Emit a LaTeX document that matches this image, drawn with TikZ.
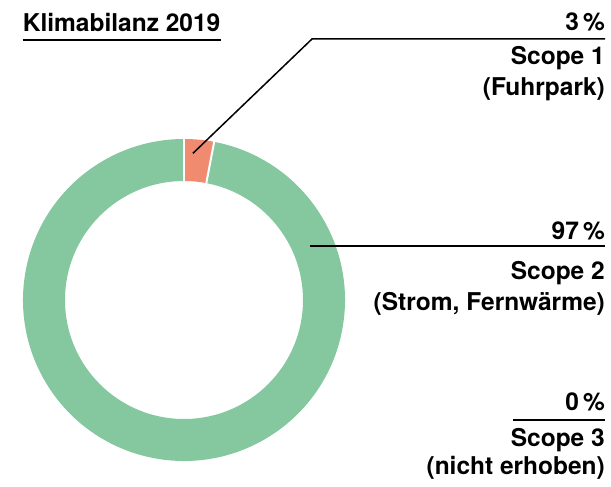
\documentclass[tikz,border=0pt]{standalone}
\usepackage{fontspec}
\setmainfont{TeX Gyre Heros}
\definecolor{ringgreen}{HTML}{85C8A0}
\definecolor{ringorange}{HTML}{F08B70}
\begin{document}
\begin{tikzpicture}[x=1pt,y=1pt,
  lbl/.style={font=\bfseries\fontsize{24.5}{28}\selectfont, inner sep=0pt, anchor=base east},
  ttl/.style={font=\bfseries\fontsize{24.5}{28}\selectfont, inner sep=0pt, anchor=base west},
  rule/.style={line width=1.5pt, black},
  sep/.style={white, line width=2pt}]
\useasboundingbox (0,0) rectangle (611,487);
% ring
\begin{scope}[shift={(184,187)}]
\fill[ringgreen] (79.2:161) arc[start angle=79.2, end angle=-270, radius=161]
  -- (90:119) arc[start angle=90, end angle=439.2, radius=119] -- cycle;
\fill[ringorange] (90:161) arc[start angle=90, end angle=79.2, radius=161]
  -- (79.2:119) arc[start angle=79.2, end angle=90, radius=119] -- cycle;
\draw[sep] (90:117) -- (90:163);
\draw[sep] (79.2:117) -- (79.2:163);
\coordinate (p1) at (86.5:147);
\end{scope}
% title
\node[ttl] (title) at (22.7,455) {Klimabilanz 2019};
\draw[rule] (22.7,447) -- (221,447);
% block 1
\node[lbl] (pct1) at (605,456) {3\thinspace\%};
\node[lbl] (sc1) at (605,422) {Scope 1};
\node[lbl] (ds1) at (605,391) {(Fuhrpark)};
\coordinate (k1) at (312,448);
\coordinate (e1) at (605,448);
\draw[rule] (p1) -- (k1) -- (e1);
% block 2
\node[lbl] (pct2) at (605,247) {97\thinspace\%};
\node[lbl] (sc2) at (605,207) {Scope 2};
\node[lbl] (ds2) at (605,176) {(Strom, Fernwärme)};
\coordinate (s2) at (310,241);
\coordinate (e2) at (605,241);
\draw[rule] (s2) -- (e2);
% block 3
\node[lbl] (pct3) at (605,76) {0\thinspace\%};
\node[lbl] (sc3) at (605,40) {Scope 3};
\node[lbl] (ds3) at (605,12) {(nicht erhoben)};
\coordinate (s3) at (513,67);
\coordinate (e3) at (605,67);
\draw[rule] (s3) -- (e3);
\end{tikzpicture}
\end{document}
